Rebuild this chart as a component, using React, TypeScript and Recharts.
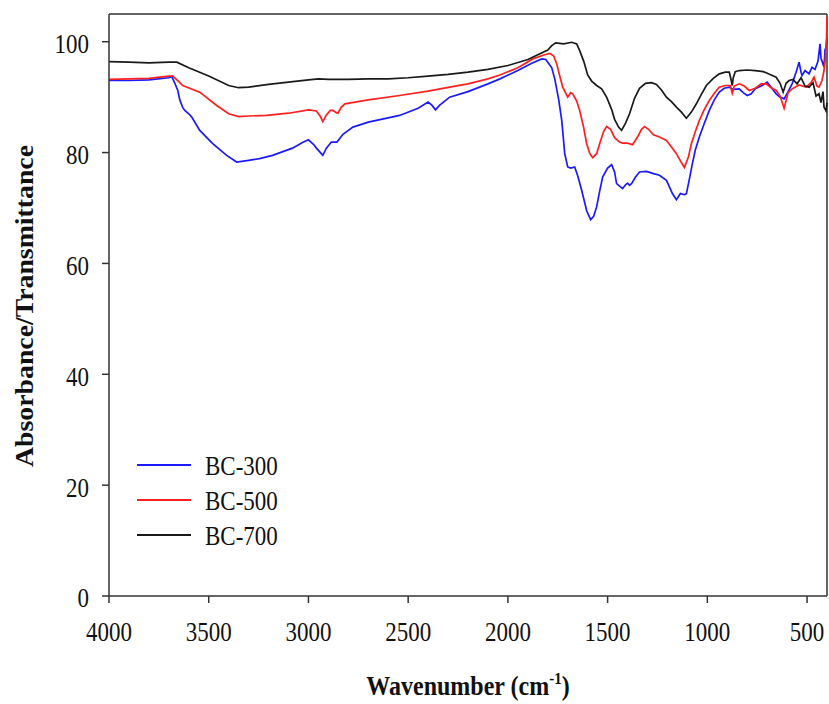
import React from "react";
import { LineChart, Line, XAxis, YAxis, Legend, ReferenceLine, Label } from "recharts";

const waveTicks = [4000, 3500, 3000, 2500, 2000, 1500, 1000, 500];
const valueTicks = [0, 20, 40, 60, 80, 100];

const bc300Wave = [4000, 3900, 3800, 3700, 3685, 3670, 3655, 3645, 3630, 3620, 3600, 3585, 3545, 3480, 3410, 3360, 3300, 3245, 3180, 3080, 3030, 3000, 2975, 2960, 2940, 2928, 2910, 2885, 2857, 2827, 2777, 2700, 2543, 2450, 2400, 2380, 2363, 2343, 2320, 2292, 2200, 2100, 2040, 1950, 1880, 1830, 1810, 1800, 1780, 1765, 1745, 1730, 1715, 1700, 1685, 1665, 1650, 1630, 1605, 1585, 1570, 1555, 1540, 1525, 1500, 1480, 1465, 1455, 1425, 1410, 1400, 1390, 1380, 1360, 1340, 1305, 1270, 1240, 1205, 1175, 1155, 1135, 1115, 1105, 1090, 1075, 1060, 1040, 1015, 990, 965, 940, 915, 890, 870, 840, 820, 800, 780, 760, 725, 700, 680, 655, 635, 615, 595, 575, 555, 540, 530, 525, 510, 490, 475, 460, 445, 435, 430, 420, 415, 410, 405, 400];
const bc300Value = [93.0, 93.0, 93.1, 93.5, 93.7, 92.5, 91.2, 89.5, 88.1, 87.6, 87.0, 86.4, 84.0, 81.6, 79.5, 78.3, 78.6, 78.9, 79.5, 80.8, 81.8, 82.3, 81.5, 80.8, 80.0, 79.5, 80.8, 81.9, 81.9, 83.3, 84.6, 85.5, 86.7, 88.0, 89.1, 88.5, 87.7, 88.5, 89.2, 90.0, 91.0, 92.4, 93.3, 94.8, 96.1, 96.9, 96.8, 96.3, 95.3, 93.3, 89.5, 85.8, 79.8, 77.4, 77.2, 77.4, 75.8, 73.2, 69.5, 67.9, 68.5, 70.2, 73.0, 75.6, 77.2, 77.8, 76.5, 74.4, 73.5, 74.2, 74.5, 74.1, 74.4, 75.6, 76.5, 76.6, 76.2, 75.9, 75.0, 72.6, 71.5, 72.6, 72.4, 72.6, 75.2, 78.0, 80.5, 82.8, 85.3, 87.6, 89.5, 90.9, 91.6, 91.8, 91.4, 91.5, 90.8, 90.3, 90.6, 91.5, 92.1, 92.7, 91.8, 90.6, 90.0, 89.7, 91.0, 92.4, 94.5, 96.3, 94.5, 93.9, 94.8, 94.2, 95.4, 95.0, 96.5, 99.6, 97.0, 96.0, 95.4, 98.5, 99.0, 100.5];

const bc500Wave = [4000, 3900, 3800, 3700, 3680, 3650, 3630, 3545, 3460, 3400, 3350, 3300, 3210, 3100, 3000, 2960, 2940, 2928, 2910, 2890, 2877, 2860, 2852, 2835, 2817, 2700, 2543, 2400, 2292, 2200, 2100, 2040, 1950, 1875, 1820, 1790, 1770, 1755, 1740, 1725, 1700, 1685, 1675, 1655, 1640, 1620, 1605, 1590, 1575, 1555, 1540, 1520, 1505, 1485, 1465, 1440, 1425, 1400, 1375, 1350, 1330, 1315, 1295, 1270, 1240, 1205, 1180, 1155, 1130, 1115, 1095, 1080, 1060, 1040, 1015, 990, 965, 940, 910, 885, 875, 865, 840, 815, 790, 760, 730, 705, 680, 655, 635, 615, 595, 575, 540, 505, 480, 465, 450, 440, 425, 415, 408, 402, 400];
const bc500Value = [93.2, 93.3, 93.4, 93.8, 93.8, 92.8, 92.1, 90.9, 88.5, 87.0, 86.5, 86.6, 86.7, 87.1, 87.7, 87.5, 86.5, 85.6, 86.8, 87.6, 87.6, 87.2, 87.1, 88.2, 88.8, 89.5, 90.3, 91.1, 91.8, 92.4, 93.3, 94.0, 95.3, 96.9, 97.6, 97.9, 97.4, 96.0, 93.8, 91.8, 90.0, 90.8, 90.6, 89.3, 87.6, 84.5, 81.6, 79.9, 79.1, 79.8, 81.6, 83.8, 84.7, 84.2, 82.7, 81.9, 81.7, 81.7, 81.4, 82.8, 84.2, 84.7, 84.2, 83.2, 82.8, 82.2, 81.0, 79.8, 78.2, 77.3, 79.2, 81.6, 83.8, 85.8, 87.8, 89.4, 90.7, 91.8, 92.1, 92.1, 90.7, 92.0, 92.4, 92.0, 91.2, 91.6, 92.4, 92.4, 91.7, 91.2, 90.2, 88.0, 90.8, 91.5, 92.2, 91.8, 92.6, 93.6, 92.0, 91.8, 93.0, 94.8, 97.0, 101.0, 104.5];

const bc700Wave = [4000, 3900, 3800, 3700, 3660, 3600, 3500, 3400, 3350, 3300, 3200, 3100, 3000, 2950, 2900, 2800, 2700, 2600, 2500, 2400, 2300, 2200, 2100, 2000, 1900, 1800, 1780, 1760, 1720, 1680, 1655, 1640, 1620, 1600, 1580, 1555, 1530, 1505, 1480, 1465, 1445, 1430, 1410, 1390, 1365, 1340, 1310, 1280, 1255, 1230, 1205, 1180, 1155, 1130, 1105, 1080, 1055, 1030, 1005, 970, 940, 910, 890, 880, 875, 870, 860, 840, 800, 760, 720, 705, 680, 655, 635, 620, 605, 590, 570, 550, 530, 510, 490, 470, 455, 440, 430, 420, 415, 405, 400];
const bc700Value = [96.4, 96.3, 96.2, 96.3, 96.3, 95.3, 93.8, 92.1, 91.7, 91.8, 92.3, 92.7, 93.1, 93.3, 93.2, 93.2, 93.3, 93.3, 93.5, 93.8, 94.1, 94.5, 95.0, 95.7, 96.8, 98.5, 99.3, 99.8, 99.6, 99.9, 99.6, 98.4, 96.5, 94.0, 92.9, 92.1, 91.5, 90.0, 87.8, 86.0, 84.6, 84.0, 85.3, 87.0, 89.8, 91.6, 92.5, 92.6, 92.3, 91.3, 90.0, 89.2, 88.2, 87.3, 86.2, 87.3, 88.8, 90.5, 92.1, 93.4, 94.2, 94.5, 94.5, 93.0, 92.1, 93.5, 94.6, 94.8, 94.9, 94.8, 94.6, 94.4, 94.0, 93.6, 92.5, 90.9, 92.5, 93.0, 93.2, 92.4, 93.5, 92.0, 91.8, 92.6, 90.2, 90.6, 89.0, 91.0, 88.2, 87.5, 89.0];

const seriesNames = ["BC-300", "BC-500", "BC-700"];
const seriesColors = ["#1a1aff", "#ff1f1f", "#1a1a1a"];

const toData = (w: number[], v: number[]) => w.map((x, i) => ({ w: x, v: v[i] }));
const bc300Data = toData(bc300Wave, bc300Value);
const bc500Data = toData(bc500Wave, bc500Value);
const bc700Data = toData(bc700Wave, bc700Value);

const FONT = "Liberation Serif, Times New Roman, serif";
const STRETCH = 1.18;
const AXIS = "#333333";

const XTick = (props: any) => {
  const { x, y, payload } = props;
  return (
    <g transform={`translate(${x},${y + 36}) scale(1,${STRETCH})`}>
      <text x={0} y={0} textAnchor="middle" fontFamily={FONT} fontSize={23} fill="#111">
        {payload.value}
      </text>
    </g>
  );
};

const YTick = (props: any) => {
  const { x, y, payload } = props;
  return (
    <g transform={`translate(${x},${y}) scale(1,${STRETCH})`}>
      <text x={0} y={0} dy="0.42em" textAnchor="end" fontFamily={FONT} fontSize={23} fill="#111">
        {payload.value}
      </text>
    </g>
  );
};

const LegendBox = () => (
  <svg width={200} height={110} style={{ display: "block" }}>
    {seriesNames.map((n, i) => {
      const cy = 20 + i * 35;
      return (
        <g key={n}>
          <line x1={7} x2={61} y1={cy} y2={cy} stroke={seriesColors[i]} strokeWidth={1.8} />
          <g transform={`translate(75,${cy}) scale(1,${STRETCH})`}>
            <text x={0} y={0} dy="0.35em" fontFamily={FONT} fontSize={23} fill="#111">
              {n}
            </text>
          </g>
        </g>
      );
    })}
  </svg>
);

export default function App() {
  return (
    <div style={{ position: "absolute", left: 0, top: 0, width: 829, height: 704, background: "#fff" }}>
      <LineChart width={829} height={704} margin={{ top: 14, right: 2, bottom: 78, left: 49 }}>
        <XAxis
          dataKey="w"
          type="number"
          domain={[400, 4000]}
          reversed
          ticks={waveTicks}
          interval={0}
          height={30}
          tickSize={7}
          tickLine={{ stroke: AXIS, strokeWidth: 1.5 }}
          axisLine={{ stroke: AXIS, strokeWidth: 1.5 }}
          tick={<XTick />}
        >
          <Label
            content={() => (
              <g transform={`translate(468,695) scale(1,${STRETCH})`}>
                <text x={0} y={0} textAnchor="middle" fontFamily={FONT} fontWeight="bold" fontSize={24} fill="#111">
                  <tspan>Wavenumber (cm</tspan>
                  <tspan dy={-9} fontSize={15}>-1</tspan>
                  <tspan dy={9}>)</tspan>
                </text>
              </g>
            )}
          />
        </XAxis>
        <YAxis
          type="number"
          domain={[0, 105]}
          ticks={valueTicks}
          interval={0}
          width={60}
          tickSize={7}
          tickMargin={13}
          tickLine={{ stroke: AXIS, strokeWidth: 1.5 }}
          axisLine={{ stroke: AXIS, strokeWidth: 1.5 }}
          tick={<YTick />}
        >
          <Label
            content={() => (
              <text
                transform="translate(33,306) rotate(-90)"
                x={0}
                y={0}
                textAnchor="middle"
                fontFamily={FONT}
                fontWeight="bold"
                fontSize={25}
                textLength={322}
                lengthAdjust="spacingAndGlyphs"
                fill="#111"
              >
                Absorbance/Transmittance
              </text>
            )}
          />
        </YAxis>
        <ReferenceLine y={105} stroke={AXIS} strokeWidth={1.5} />
        <ReferenceLine x={400} stroke={AXIS} strokeWidth={1.5} />
        <Line data={bc300Data} dataKey="v" name={seriesNames[0]} stroke={seriesColors[0]} strokeWidth={1.7} dot={false} type="linear" isAnimationActive={false} />
        <Line data={bc500Data} dataKey="v" name={seriesNames[1]} stroke={seriesColors[1]} strokeWidth={1.7} dot={false} type="linear" isAnimationActive={false} />
        <Line data={bc700Data} dataKey="v" name={seriesNames[2]} stroke={seriesColors[2]} strokeWidth={1.7} dot={false} type="linear" isAnimationActive={false} />
        <Legend
          layout="horizontal"
          verticalAlign="middle"
          align="center"
          content={<LegendBox />}
          wrapperStyle={{ position: "absolute", left: 130, top: 445, width: 200, height: 110 }}
        />
      </LineChart>
    </div>
  );
}
